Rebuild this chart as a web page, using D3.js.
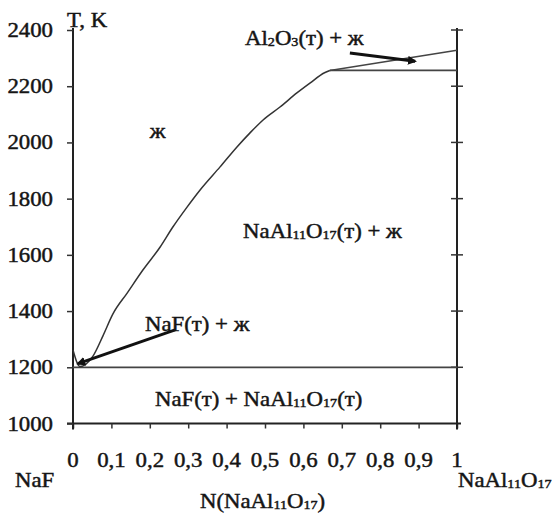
<!DOCTYPE html>
<html>
<head>
<meta charset="utf-8">
<script src="https://cdn.jsdelivr.net/npm/d3@7"></script>
<style>
  html, body { margin: 0; padding: 0; background: #fff; }
  svg text { font-family: "Liberation Serif", "Times New Roman", serif; fill: #151515; stroke: #151515; stroke-width: 0.45px; }
</style>
</head>
<body>
<svg id="chart" width="557" height="519"></svg>
<script>
// Phase diagram NaF – NaAl11O17: temperature (K) vs mole fraction of NaAl11O17

const xTickValues = [0, 0.1, 0.2, 0.3, 0.4, 0.5, 0.6, 0.7, 0.8, 0.9, 1];
const xTickLabels = ["0", "0,1", "0,2", "0,3", "0,4", "0,5", "0,6", "0,7", "0,8", "0,9", "1"];
const yTickValues = [1000, 1200, 1400, 1600, 1800, 2000, 2200, 2400];

// Liquidus branch from NaF melting point through the eutectic up to the peritectic point
const liquidusX = [0, 0.018, 0.052, 0.078, 0.104, 0.141, 0.182, 0.227, 0.260, 0.297, 0.331,
                   0.383, 0.427, 0.461, 0.495, 0.539, 0.583, 0.617, 0.655, 0.669];
const liquidusT = [1262, 1203, 1240, 1312, 1390, 1464, 1546, 1628, 1699, 1770, 1831,
                   1913, 1984, 2034, 2080, 2126, 2176, 2211, 2248, 2256];

// Al2O3 liquidus branch from the peritectic point to the NaAl11O17 side
const al2o3X = [0.669, 1];
const al2o3T = [2256, 2328];

// Peritectic and eutectic isotherms
const peritecticX = [0.669, 1];
const peritecticT = [2256, 2256];
const eutecticX = [0, 1];
const eutecticT = [1200, 1200];

// Region labels: [x, T, parts]; parts are [text, isSubscript]
const regionLabels = [
  { x: 0.200, t: 2016, parts: [["ж", false]] },
  { x: 0.448, t: 2347, parts: [["Al", false], ["2", true], ["O", false], ["3", true], ["(т) + ж", false]] },
  { x: 0.443, t: 1660, parts: [["NaAl", false], ["11", true], ["O", false], ["17", true], ["(т) + ж", false]] },
  { x: 0.1875, t: 1329, parts: [["NaF(т) + ж", false]] },
  { x: 0.2135, t: 1062, parts: [["NaF(т) + NaAl", false], ["11", true], ["O", false], ["17", true], ["(т)", false]] }
];

// Pointer arrows from labels to the curves: start (x0,t0) -> tip (x1,t1)
const pointerX0 = [0.721, 0.266];
const pointerT0 = [2318, 1333];
const pointerX1 = [0.891, 0.013];
const pointerT1 = [2289, 1213];

const svg = d3.select("#chart");
const x = d3.scaleLinear().domain([0, 1]).range([73, 457]);
const y = d3.scaleLinear().domain([1000, 2400]).range([423.5, 30]);

const fontSize = 20;
const stretch = 1.14;

// Text helper: places a horizontally widened serif label
function addText(px, py, anchor) {
  return svg.append("text")
    .attr("transform", `translate(${px},${py}) scale(${stretch},1)`)
    .attr("text-anchor", anchor || "start")
    .attr("font-size", fontSize);
}

function richText(sel, parts) {
  let wasSub = false;
  parts.forEach(([s, sub]) => {
    const ts = sel.append("tspan").attr("font-size", sub ? fontSize * 0.62 : fontSize).text(s);
    if (sub && !wasSub) ts.attr("dy", 1);
    if (!sub && wasSub) ts.attr("dy", -1);
    wasSub = sub;
  });
}

// Axes
const xAxis = d3.axisBottom(x).tickValues(xTickValues).tickFormat("").tickSize(5).tickSizeOuter(0);
const gx = svg.append("g").attr("transform", `translate(0,${y(1000)})`).call(xAxis);
gx.select(".domain").attr("stroke", "#222").attr("stroke-width", 2).attr("d", `M${x(0) - 6},0H${x(1) + 4}`);
gx.selectAll(".tick line").attr("stroke", "#333").attr("stroke-width", 1.5);

const yAxis = d3.axisLeft(y).tickValues(yTickValues).tickFormat("").tickSize(6).tickSizeOuter(0);
const gy = svg.append("g").attr("transform", `translate(${x(0)},0)`).call(yAxis);
gy.select(".domain").attr("stroke", "#222").attr("stroke-width", 2).attr("d", `M0,${y(1000) + 6}V${y(2400) - 2}`);
gy.selectAll(".tick line").attr("stroke", "#333").attr("stroke-width", 1.5);

// Y tick labels
yTickValues.forEach(v => addText(53, y(v) + 7, "end").text(d3.format("d")(v)));

// Right-hand axis (pure NaAl11O17) with crossing ticks
const gr = svg.append("g").attr("transform", `translate(${x(1)},0)`);
gr.append("line").attr("y1", y(2400) - 2).attr("y2", y(1000) + 6).attr("stroke", "#222").attr("stroke-width", 2);
gr.selectAll("line.tk").data(yTickValues.filter(v => v > 1000)).join("line")
  .attr("class", "tk").attr("x1", -6).attr("x2", 6)
  .attr("y1", d => y(d)).attr("y2", d => y(d))
  .attr("stroke", "#333").attr("stroke-width", 1.5);

// X tick labels
xTickValues.forEach((v, i) => addText(x(v), 467, "middle").text(xTickLabels[i]));

// Axis titles
addText(67, 27).text("T, K");
addText(15, 487).text("NaF");
richText(addText(458, 487), [["NaAl", false], ["11", true], ["O", false], ["17", true]]);
richText(addText(200, 508), [["N(NaAl", false], ["11", true], ["O", false], ["17", true], [")", false]]);

// Curves
const line = d3.line().x(d => x(d[0])).y(d => y(d[1]));
const smooth = d3.line().x(d => x(d[0])).y(d => y(d[1])).curve(d3.curveMonotoneX);
const zip = (xs, ts) => xs.map((v, i) => [v, ts[i]]);

svg.append("path").datum(zip(eutecticX, eutecticT)).attr("d", line)
  .attr("fill", "none").attr("stroke", "#444").attr("stroke-width", 1.8);
svg.append("path").datum(zip(peritecticX, peritecticT)).attr("d", line)
  .attr("fill", "none").attr("stroke", "#444").attr("stroke-width", 1.8);
svg.append("path").datum(zip(al2o3X, al2o3T)).attr("d", line)
  .attr("fill", "none").attr("stroke", "#444").attr("stroke-width", 1.5);
svg.append("path").datum(zip(liquidusX, liquidusT)).attr("d", smooth)
  .attr("fill", "none").attr("stroke", "#333").attr("stroke-width", 1.5).attr("stroke-linejoin", "round");

// Pointer arrows
svg.append("defs").append("marker")
  .attr("id", "head").attr("viewBox", "0 0 10 10").attr("refX", 8).attr("refY", 5)
  .attr("markerWidth", 3).attr("markerHeight", 3).attr("orient", "auto")
  .append("path").attr("d", "M0,0L10,5L0,10Z").attr("fill", "#111");

svg.append("g").selectAll("line").data(pointerX0).join("line")
  .attr("x1", (d, i) => x(pointerX0[i])).attr("y1", (d, i) => y(pointerT0[i]))
  .attr("x2", (d, i) => x(pointerX1[i])).attr("y2", (d, i) => y(pointerT1[i]))
  .attr("stroke", "#111").attr("stroke-width", 3).attr("marker-end", "url(#head)");

// Region labels
regionLabels.forEach(l => richText(addText(x(l.x), y(l.t)), l.parts));
</script>
</body>
</html>
